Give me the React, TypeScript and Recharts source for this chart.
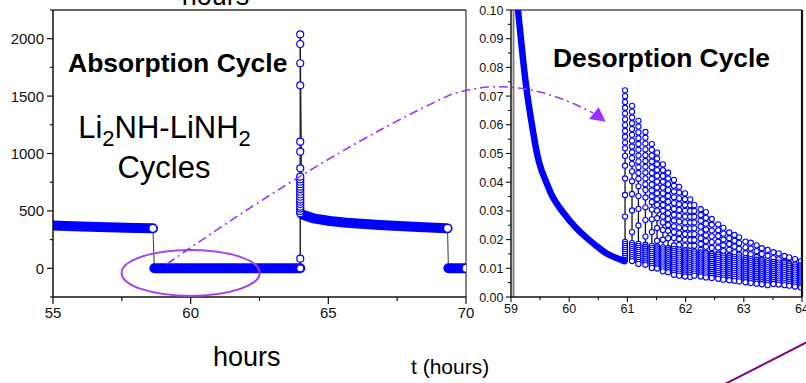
import { Bar, ComposedChart, Line, ReferenceDot, ReferenceLine, XAxis, YAxis } from "recharts";

const FONT = '"Liberation Sans", Arial, Helvetica, sans-serif';
const BLUE = "#0000ff";
const VIOLET = "#9933ff";

// left panel: absorption cycle, signal vs hours
const absorptionBeforeT = [55, 56, 57, 58, 58.63];
const absorptionBeforeV = [372, 365, 358, 352, 348];
const absorptionIdleT = [58.68, 60, 62, 63.98];
const absorptionIdleV = [0, 0, 0, 0];
const absorptionSpikeT = 63.98;
const absorptionSpikeV = [
  0, 84, 479, 500, 520, 537, 560, 580, 600, 624, 645, 667, 690, 711, 733, 754, 776, 798, 871, 1016, 1103, 1594, 1786,
  1954, 2038,
];
const absorptionAfterT = [64.05, 64.09, 64.46, 65.06, 65.67, 66.87, 68.08, 69.29, 69.33];
const absorptionAfterV = [470, 464, 435, 412, 397, 377, 362, 349, 348];
const absorptionEndT = [69.36, 70];
const absorptionEndV = [0, 0];

const leftXTicks = [55, 57.5, 60, 62.5, 65, 67.5, 70];
const leftYTicks = [-250, 0, 250, 500, 750, 1000, 1250, 1500, 1750, 2000, 2250];

// right panel: desorption cycle
const desorptionCurveT = [
  59.12, 59.17, 59.22, 59.28, 59.36, 59.44, 59.52, 59.61, 59.7, 59.87, 60.1, 60.33, 60.5, 60.64, 60.8, 60.95,
];
const desorptionCurveV = [
  0.1, 0.09, 0.08, 0.07, 0.06, 0.05, 0.044, 0.04, 0.035, 0.03, 0.0242, 0.02, 0.0173, 0.015, 0.0136, 0.0125,
];

const pulseT = [
  60.96, 61.08, 61.19, 61.31, 61.42, 61.51, 61.61, 61.7, 61.8, 61.89, 61.99, 62.08, 62.15, 62.26, 62.35, 62.45,
  62.56, 62.65, 62.75, 62.84, 62.92, 63.03, 63.12, 63.22, 63.31, 63.41, 63.51, 63.6, 63.7, 63.78, 63.88, 63.98,
];
const pulsePeak = [
  0.072, 0.0666, 0.0614, 0.0575, 0.0533, 0.0503, 0.0462, 0.0433, 0.0408, 0.0384, 0.0361, 0.034, 0.032, 0.0306,
  0.0296, 0.0272, 0.0253, 0.0241, 0.0225, 0.0216, 0.0208, 0.0193, 0.0189, 0.018, 0.017, 0.0164, 0.0156, 0.0152,
  0.0143, 0.0138, 0.0132, 0.0125,
];
const pulseBand = [
  0.0192, 0.0188, 0.0185, 0.0182, 0.0178, 0.0176, 0.0173, 0.017, 0.0168, 0.0165, 0.0162, 0.016, 0.0158, 0.0155,
  0.0152, 0.015, 0.0147, 0.0144, 0.0142, 0.014, 0.0138, 0.0135, 0.0132, 0.013, 0.0128, 0.0125, 0.0122, 0.012,
  0.0118, 0.0116, 0.0113, 0.011,
];
const pulseFloor = [
  0.0128, 0.0122, 0.0115, 0.0108, 0.0101, 0.0095, 0.0089, 0.0083, 0.0077, 0.0073, 0.0071, 0.0069, 0.0068, 0.0065,
  0.0063, 0.0061, 0.0059, 0.0057, 0.0055, 0.0053, 0.0051, 0.0049, 0.0047, 0.0045, 0.0043, 0.0041, 0.004, 0.0038,
  0.0037, 0.0035, 0.0034, 0.0033,
];

const rightXTicks = [59, 59.5, 60, 60.5, 61, 61.5, 62, 62.5, 63, 63.5, 64];
const rightYTicks = [
  0, 0.005, 0.01, 0.015, 0.02, 0.025, 0.03, 0.035, 0.04, 0.045, 0.05, 0.055, 0.06, 0.065, 0.07, 0.075, 0.08, 0.085,
  0.09, 0.095, 0.1,
];

const pts = (ts: number[], vs: number[]) => ts.map((t, i) => ({ t, v: vs[i] }));

const beforeData = pts(absorptionBeforeT, absorptionBeforeV);
const idleData = pts(absorptionIdleT, absorptionIdleV);
const spikeData = absorptionSpikeV.map((v) => ({ t: absorptionSpikeT, v }));
const afterData = pts(absorptionAfterT, absorptionAfterV);
const endData = pts(absorptionEndT, absorptionEndV);
const traceData = [...beforeData, ...idleData, ...spikeData, ...afterData, ...endData];

const curveData = pts(desorptionCurveT, desorptionCurveV);
const pulseData = pulseT.map((t, i) => ({
  t,
  peak: pulsePeak[i],
  band: pulseBand[i],
  floor: pulseFloor[i],
}));

const AXIS_LINE = { stroke: "#111", strokeWidth: 1.5 };

function LeftYTick({ x, y, payload }: any) {
  const major = payload.value % 500 === 0;
  return (
    <g>
      <line x1={x} x2={x - (major ? 6 : 3)} y1={y} y2={y} stroke="#111" strokeWidth={1.2} />
      {major && (
        <text x={x - 9} y={y} dy={5.4} textAnchor="end" fontSize={15} fontFamily={FONT} fill="#111">
          {payload.value}
        </text>
      )}
    </g>
  );
}

function LeftXTick({ x, y, payload }: any) {
  const major = payload.value % 5 === 0;
  return (
    <g>
      <line x1={x} x2={x} y1={y} y2={y + (major ? 7 : 4)} stroke="#111" strokeWidth={1.2} />
      {major && (
        <text x={x} y={y + 21} textAnchor="middle" fontSize={15} fontFamily={FONT} fill="#111">
          {payload.value}
        </text>
      )}
    </g>
  );
}

function RightYTick({ x, y, payload }: any) {
  const major = Math.round(payload.value * 1000) % 10 === 0;
  return (
    <g>
      <line x1={x} x2={x - (major ? 5 : 3)} y1={y} y2={y} stroke="#111" strokeWidth={1.1} />
      {major && (
        <text x={x - 7.5} y={y} dy={4.5} textAnchor="end" fontSize={12.5} fontFamily={FONT} fill="#111">
          {payload.value.toFixed(2)}
        </text>
      )}
    </g>
  );
}

function RightXTick({ x, y, payload }: any) {
  const major = Number.isInteger(payload.value);
  return (
    <g>
      <line x1={x} x2={x} y1={y} y2={y + (major ? 5 : 3)} stroke="#111" strokeWidth={1.1} />
      {major && (
        <text x={x} y={y + 16} textAnchor="middle" fontSize={12.5} fontFamily={FONT} fill="#111">
          {payload.value}
        </text>
      )}
    </g>
  );
}

// open circle drawn only on the last sample of a band
const lastDot = (n: number, r: number) => (p: any) =>
  p.index === n - 1 ? (
    <circle key={p.index} cx={p.cx} cy={p.cy} r={r} fill="#fff" stroke={BLUE} strokeWidth={1.3} />
  ) : (
    <g key={p.index} />
  );

// one desorption pulse: range bar drawn as a chain of open circles
function PulseColumn(props: any) {
  const { x, y, width, height, payload } = props;
  if (!Number.isFinite(y) || !Number.isFinite(height)) return <g />;
  const cx = x + width / 2;
  const bottom = y + height;
  const span = payload.peak - payload.floor;
  const bandY = y + (height * (payload.peak - payload.band)) / span;
  const ys: number[] = [];
  let cy = y;
  let step = 5.8;
  let n = 0;
  while (cy < bandY) {
    ys.push(cy);
    cy += step;
    n++;
    if (n > 9) step *= 1.3;
  }
  for (let yy = bandY; yy <= bottom + 0.01; yy += 2) ys.push(yy);
  return (
    <g>
      <line x1={cx} x2={cx} y1={y} y2={bottom} stroke="#111" strokeWidth={1.3} />
      {ys.map((yy, i) => (
        <circle key={i} cx={cx} cy={yy} r={2.6} fill="#fff" stroke={BLUE} strokeWidth={1.1} />
      ))}
    </g>
  );
}

function AbsorptionPanel() {
  return (
    <ComposedChart width={480} height={383} margin={{ top: 10, right: 14, bottom: 0, left: 0 }}>
      <XAxis
        dataKey="t"
        type="number"
        domain={[55, 70]}
        allowDataOverflow
        ticks={leftXTicks}
        interval={0}
        height={86}
        tickLine={false}
        tickSize={0}
        tickMargin={0}
        axisLine={AXIS_LINE}
        tick={<LeftXTick />}
      />
      <YAxis
        type="number"
        domain={[-250, 2250]}
        allowDataOverflow
        ticks={leftYTicks}
        interval={0}
        width={53}
        tickLine={false}
        tickSize={0}
        tickMargin={0}
        axisLine={AXIS_LINE}
        tick={<LeftYTick />}
      />
      <ReferenceLine y={2250} stroke="#333" strokeWidth={1.3} />
      <ReferenceLine x={70} stroke="#444" strokeWidth={1.3} />
      <Line data={traceData} dataKey="v" stroke="#333" strokeWidth={1} dot={false} isAnimationActive={false} />
      <Line
        data={beforeData}
        dataKey="v"
        stroke={BLUE}
        strokeWidth={10}
        strokeLinecap="round"
        dot={lastDot(beforeData.length, 4)}
        isAnimationActive={false}
      />
      <Line data={idleData} dataKey="v" stroke={BLUE} strokeWidth={10} strokeLinecap="round" dot={false} isAnimationActive={false} />
      <Line
        data={afterData}
        dataKey="v"
        stroke={BLUE}
        strokeWidth={10}
        strokeLinecap="round"
        dot={lastDot(afterData.length, 4)}
        isAnimationActive={false}
      />
      <Line
        data={endData}
        dataKey="v"
        stroke={BLUE}
        strokeWidth={10}
        strokeLinecap="round"
        dot={lastDot(endData.length, 4)}
        isAnimationActive={false}
      />
      <Line
        data={spikeData}
        dataKey="v"
        stroke="#111"
        strokeWidth={1}
        dot={{ r: 3.5, fill: "#fff", stroke: BLUE, strokeWidth: 1.2 }}
        isAnimationActive={false}
      />
      <ReferenceDot
        x={60}
        y={-40}
        r={0}
        shape={(p: any) => (
          <ellipse cx={p.cx} cy={p.cy} rx={69} ry={23} fill="none" stroke="#a040f0" strokeWidth={2} />
        )}
      />
    </ComposedChart>
  );
}

function DesorptionPanel() {
  return (
    <ComposedChart width={346} height={383} data={pulseData} margin={{ top: 10, right: 4, bottom: 0, left: 0 }}>
      <XAxis
        dataKey="t"
        type="number"
        domain={[59, 64]}
        allowDataOverflow
        ticks={rightXTicks}
        interval={0}
        height={86}
        tickLine={false}
        tickSize={0}
        tickMargin={0}
        axisLine={AXIS_LINE}
        tick={<RightXTick />}
      />
      <YAxis
        type="number"
        domain={[0, 0.1]}
        allowDataOverflow
        ticks={rightYTicks}
        interval={0}
        width={51}
        tickLine={false}
        tickSize={0}
        tickMargin={0}
        axisLine={AXIS_LINE}
        tick={<RightYTick />}
      />
      <ReferenceLine y={0.1} stroke="#555" strokeWidth={1.3} />
      <ReferenceLine x={64} stroke="#111" strokeWidth={2.2} />
      <ReferenceLine x={59.043} stroke="#777" strokeWidth={1.8} />
      <Line
        data={curveData}
        dataKey="v"
        type="basis"
        stroke={BLUE}
        strokeWidth={6.5}
        strokeLinecap="round"
        dot={false}
        isAnimationActive={false}
      />
      <Bar
        dataKey={(d: any) => [d.floor, d.peak]}
        barSize={6}
        shape={(p: any) => <PulseColumn {...p} />}
        isAnimationActive={false}
      />
    </ComposedChart>
  );
}

export default function App() {
  return (
    <div
      style={{
        position: "absolute",
        left: 0,
        top: 0,
        width: 806,
        height: 383,
        background: "#fff",
        overflow: "hidden",
        fontFamily: FONT,
      }}
    >
      <div style={{ position: "absolute", left: 0, top: 0 }}>
        <AbsorptionPanel />
      </div>
      <div style={{ position: "absolute", left: 460, top: 0 }}>
        <DesorptionPanel />
      </div>
      <svg
        width={806}
        height={383}
        style={{ position: "absolute", left: 0, top: 0, pointerEvents: "none" }}
        fontFamily={FONT}
      >
        <text x={215.5} y={5} textAnchor="middle" fontSize={27} fill="#000">
          hours
        </text>
        <text x={68} y={72} fontSize={26.5} fontWeight="bold" fill="#000">
          Absorption Cycle
        </text>
        <text x={164.5} y={138} textAnchor="middle" fontSize={31} fill="#000">
          Li<tspan fontSize={22} dy={8}>2</tspan>
          <tspan dy={-8}>NH-LiNH</tspan>
          <tspan fontSize={22} dy={8}>2</tspan>
        </text>
        <text x={164} y={178} textAnchor="middle" fontSize={31} fill="#000">
          Cycles
        </text>
        <text x={553} y={66.5} fontSize={26.4} fontWeight="bold" fill="#000">
          Desorption Cycle
        </text>
        <text x={213} y={366} fontSize={27} fill="#000">
          hours
        </text>
        <text x={411} y={374} fontSize={21} fill="#000">
          t (hours)
        </text>
        <path
          d="M167,264 Q330,150 450,95 Q515,72 593,113"
          fill="none"
          stroke={VIOLET}
          strokeWidth={1.6}
          strokeDasharray="9 4 2 4"
        />
        <polygon points="589,119 598.7,107.3 605.7,121.7" fill={VIOLET} />
        <line x1={725} y1={384} x2={807} y2={342} stroke="#800080" strokeWidth={2} />
      </svg>
    </div>
  );
}
